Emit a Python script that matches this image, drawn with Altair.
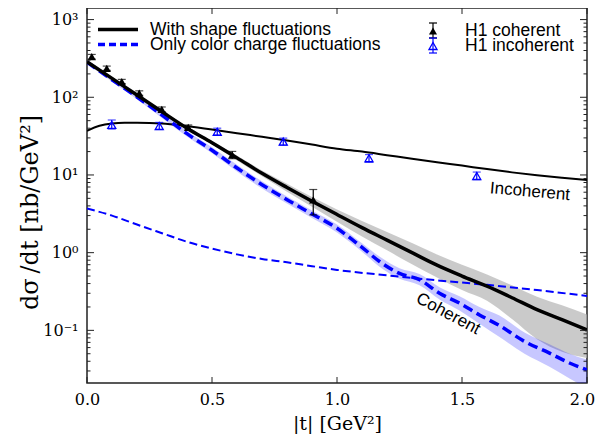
import altair as alt
import pandas as pd

# ---------------- data ----------------
t_grid = [0.0, 0.1, 0.2, 0.3, 0.4, 0.5, 0.6, 0.7, 0.8, 0.9, 1.0,
          1.1, 1.2, 1.3, 1.4, 1.5, 1.6, 1.7, 1.8, 1.9, 2.0]
coh_shape = [287, 175, 107, 65, 40, 26, 16.6, 10.5, 6.9, 4.6, 3.1,
             2.1, 1.45, 1.0, 0.69, 0.50, 0.37, 0.263, 0.185, 0.137, 0.101]
coh_shape_hi = [301, 184, 112, 68, 42, 27.3, 17.8, 11.4, 7.7, 5.2, 3.6,
                2.56, 1.84, 1.33, 0.95, 0.70, 0.525, 0.38, 0.27, 0.21, 0.16]
coh_shape_lo = [273, 167, 102, 62, 38, 24.7, 15.4, 9.6, 6.1, 3.9, 2.5,
                1.62, 1.07, 0.71, 0.48, 0.33, 0.24, 0.14, 0.077, 0.053, 0.044]

t_color = [0.0, 0.1, 0.2, 0.3, 0.4, 0.5, 0.6, 0.7, 0.8, 0.9, 1.0, 1.1, 1.17,
           1.25, 1.33, 1.41, 1.49, 1.57, 1.65, 1.75, 1.85, 1.93, 2.0]
coh_color = [283, 168, 101, 59, 34, 20.8, 12.3, 7.5, 4.8, 3.15, 2.06, 1.17, 0.77,
             0.54, 0.45, 0.30, 0.224, 0.158, 0.115, 0.072, 0.051, 0.038, 0.031]
coh_color_hi = [295, 177, 108, 64, 36.8, 22.7, 13.5, 8.3, 5.3, 3.5, 2.3, 1.32, 0.89,
                0.63, 0.53, 0.36, 0.275, 0.2, 0.155, 0.094, 0.066, 0.05, 0.042]
coh_color_lo = [272, 158, 94, 54, 31.2, 19, 11.1, 6.7, 4.3, 2.8, 1.82, 1.03, 0.66,
                0.46, 0.38, 0.25, 0.18, 0.122, 0.082, 0.05, 0.034, 0.024, 0.018]

t_inc = [0.0, 0.05, 0.1, 0.15, 0.2, 0.3, 0.4, 0.5, 0.6, 0.7, 0.8, 0.9, 1.0,
         1.1, 1.2, 1.3, 1.4, 1.5, 1.6, 1.7, 1.8, 1.9, 2.0]
inc_shape = [37, 43, 46, 47, 47, 46, 42.5, 38.5, 34.5, 31, 27.8, 24.6, 21.8,
             20.0, 18.0, 16.2, 14.6, 13.2, 11.9, 10.8, 9.9, 9.2, 8.6]

t_inc_color = [0.0, 0.1, 0.2, 0.3, 0.4, 0.5, 0.6, 0.7, 0.8, 0.9, 1.0,
               1.2, 1.4, 1.6, 1.8, 2.0]
inc_color = [3.7, 3.0, 2.3, 1.78, 1.38, 1.13, 0.95, 0.83, 0.75, 0.67, 0.60,
             0.51, 0.44, 0.385, 0.33, 0.277]

h1_coh_t = [0.019, 0.079, 0.139, 0.209, 0.299, 0.405, 0.581, 0.905]
h1_coh_y = [333, 236, 159, 113, 70, 41, 18.1, 4.77]
h1_coh_lo = [310, 222, 150, 106, 65, 38, 16.2, 3.06]
h1_coh_hi = [356, 252, 170, 121, 75, 44, 20.1, 6.5]

h1_inc_t = [0.099, 0.289, 0.521, 0.785, 1.128, 1.559]
h1_inc_y = [44, 42.7, 36, 26.9, 16.4, 9.7]
h1_inc_lo = [39, 38.5, 32.5, 24.2, 14.6, 8.7]
h1_inc_hi = [51, 47.5, 40, 29.8, 18.3, 10.9]

x_ticks = [0.0, 0.5, 1.0, 1.5, 2.0]
y_major = [0.1, 1, 10, 100, 1000]
y_minor = [0.03, 0.04, 0.05, 0.06, 0.07, 0.08, 0.09,
           0.2, 0.3, 0.4, 0.5, 0.6, 0.7, 0.8, 0.9,
           2, 3, 4, 5, 6, 7, 8, 9,
           20, 30, 40, 50, 60, 70, 80, 90,
           200, 300, 400, 500, 600, 700, 800, 900]

legend_lines = ["With shape fluctuations", "Only color charge fluctuations"]
legend_points = ["H1 coherent", "H1 incoherent"]
annotations = ["Incoherent", "Coherent"]

# ---------------- layout ----------------
W, H = 500, 375
BLUE = "#0000ff"
SERIF = "DejaVu Serif"
SANS = "Liberation Sans"

xs = alt.Scale(domain=[0, 2], nice=False, zero=False)
ys = alt.Scale(type="log", domain=[0.021, 1410], nice=False)

x_axis = alt.Axis(values=x_ticks, format=".1f", tickSize=0, domain=False, grid=False,
                  labelFlush=False, labelFont=SERIF, labelFontSize=16, labelColor="black",
                  labelPadding=8,
                  labelOffset={"condition": {"test": "datum.value >= 1.99", "value": -5},
                               "value": 0},
                  title="|t| [GeV²]", titleFont=SERIF, titleFontSize=19,
                  titleFontWeight="normal", titleColor="black", titleY=40,
                  titleBaseline="middle")
y_axis = alt.Axis(values=y_major, tickSize=0, domain=False, grid=False,
                  labelExpr="datum.value >= 999 ? '10³' : datum.value >= 99 ? '10²' : "
                            "datum.value >= 9 ? '10¹' : datum.value >= 0.9 ? '10⁰' : '10⁻¹'",
                  labelFont=SERIF, labelFontSize=16, labelColor="black", labelPadding=9,
                  title="dσ\u2009/dt [nb/GeV²]", titleFont=SERIF, titleFontSize=24,
                  titleFontWeight="normal", titleColor="black", titleX=-57, titleY=204,
                  titleAngle=270, titleAlign="center", titleBaseline="middle")


def X(f):
    return alt.X(f"{f}:Q", scale=xs, axis=x_axis)


def Y(f):
    return alt.Y(f"{f}:Q", scale=ys, axis=y_axis)


df_shape = pd.DataFrame({"t": t_grid, "y": coh_shape, "lo": coh_shape_lo, "hi": coh_shape_hi})
df_color = pd.DataFrame({"t": t_color, "y": coh_color, "lo": coh_color_lo, "hi": coh_color_hi})
df_inc = pd.DataFrame({"t": t_inc, "y": inc_shape})
df_inc_c = pd.DataFrame({"t": t_inc_color, "y": inc_color})
df_h1c = pd.DataFrame({"t": h1_coh_t, "y": h1_coh_y, "lo": h1_coh_lo, "hi": h1_coh_hi})
df_h1i = pd.DataFrame({"t": h1_inc_t, "y": h1_inc_y, "lo": h1_inc_lo, "hi": h1_inc_hi})

band_shape = alt.Chart(df_shape).mark_area(color="#b4b4b4", opacity=0.7, clip=True,
                                           interpolate="monotone").encode(
    x=X("t"), y=Y("lo"), y2="hi")
band_color = alt.Chart(df_color).mark_area(color=BLUE, opacity=0.22, clip=True,
                                           interpolate="monotone").encode(
    x=X("t"), y=Y("lo"), y2="hi")

line_inc_c = alt.Chart(df_inc_c).mark_line(color=BLUE, strokeWidth=2, strokeDash=[8, 4],
                                           interpolate="monotone", clip=True).encode(
    x=X("t"), y=Y("y"))
line_inc = alt.Chart(df_inc).mark_line(color="black", strokeWidth=2,
                                       interpolate="monotone", clip=True).encode(
    x=X("t"), y=Y("y"))
line_color = alt.Chart(df_color).mark_line(color=BLUE, strokeWidth=3.5, strokeDash=[10, 5],
                                           interpolate="monotone", clip=True).encode(
    x=X("t"), y=Y("y"))
line_shape = alt.Chart(df_shape).mark_line(color="black", strokeWidth=3.5,
                                           interpolate="monotone", clip=True).encode(
    x=X("t"), y=Y("y"))


def errbars(df, col):
    bar = alt.Chart(df).mark_rule(color=col, strokeWidth=1.2).encode(
        x=X("t"), y=Y("lo"), y2="hi")
    cap_lo = alt.Chart(df).mark_tick(color=col, orient="horizontal", size=8,
                                     thickness=1.2).encode(x=X("t"), y=Y("lo"))
    cap_hi = alt.Chart(df).mark_tick(color=col, orient="horizontal", size=8,
                                     thickness=1.2).encode(x=X("t"), y=Y("hi"))
    return [bar, cap_lo, cap_hi]


pts_c = alt.Chart(df_h1c).mark_point(shape="triangle-up", filled=True, color="black",
                                     size=70, opacity=1).encode(x=X("t"), y=Y("y"))
pts_i = alt.Chart(df_h1i).mark_point(shape="triangle-up", filled=False, color=BLUE,
                                     strokeWidth=1.3, size=65, opacity=1).encode(
    x=X("t"), y=Y("y"))

# inward ticks on all four sides
dx = pd.DataFrame({"t": x_ticks})
dmaj = pd.DataFrame({"v": y_major})
dmin = pd.DataFrame({"v": y_minor})
tick_style = dict(color="#222", strokeWidth=1)
ticks = [
    alt.Chart(dx).mark_rule(**tick_style).encode(x=X("t"), y=alt.value(H), y2=alt.value(H - 6)),
    alt.Chart(dx).mark_rule(**tick_style).encode(x=X("t"), y=alt.value(0), y2=alt.value(6)),
    alt.Chart(dmaj).mark_rule(**tick_style).encode(y=Y("v"), x=alt.value(0), x2=alt.value(7)),
    alt.Chart(dmaj).mark_rule(**tick_style).encode(y=Y("v"), x=alt.value(W), x2=alt.value(W - 7)),
    alt.Chart(dmin).mark_rule(**tick_style).encode(y=Y("v"), x=alt.value(0), x2=alt.value(3.5)),
    alt.Chart(dmin).mark_rule(**tick_style).encode(y=Y("v"), x=alt.value(W), x2=alt.value(W - 3.5)),
]

# annotations
anno_in = alt.Chart(pd.DataFrame({"t": [1.772], "y": [6.1], "s": [annotations[0]]})).mark_text(
    font=SANS, fontSize=17, angle=5, color="black").encode(x=X("t"), y=Y("y"), text="s:N")
anno_co = alt.Chart(pd.DataFrame({"t": [1.445], "y": [0.163], "s": [annotations[1]]})).mark_text(
    font=SANS, fontSize=17, angle=28, color="black").encode(x=X("t"), y=Y("y"), text="s:N")

# manual legends
one = pd.DataFrame({"a": [0]})
leg = []
leg.append(alt.Chart(one).mark_rule(color="black", strokeWidth=3.5).encode(
    x=alt.value(11), x2=alt.value(51), y=alt.value(21.5)))
leg.append(alt.Chart(one).mark_rule(color=BLUE, strokeWidth=3.5, strokeDash=[7, 4]).encode(
    x=alt.value(11), x2=alt.value(51), y=alt.value(36.5)))
for i, lab in enumerate(legend_lines):
    leg.append(alt.Chart(one).mark_text(font=SANS, fontSize=17.5, align="left",
                                        baseline="middle", color="black").encode(
        x=alt.value(63), y=alt.value(22 + 15 * i), text=alt.value(lab)))
for i, (lab, col, fill) in enumerate(zip(legend_points, ["black", BLUE], [True, False])):
    yy = 23 + 15 * i
    leg.append(alt.Chart(one).mark_rule(color=col, strokeWidth=1.2).encode(
        x=alt.value(346), y=alt.value(yy - 8), y2=alt.value(yy + 7)))
    leg.append(alt.Chart(one).mark_rule(color=col, strokeWidth=1.2).encode(
        x=alt.value(342), x2=alt.value(350), y=alt.value(yy - 8)))
    leg.append(alt.Chart(one).mark_rule(color=col, strokeWidth=1.2).encode(
        x=alt.value(342), x2=alt.value(350), y=alt.value(yy + 7)))
    leg.append(alt.Chart(one).mark_point(shape="triangle-up", filled=fill, color=col,
                                         strokeWidth=1.3, size=65, opacity=1).encode(
        x=alt.value(346), y=alt.value(yy)))
    leg.append(alt.Chart(one).mark_text(font=SANS, fontSize=17.5, align="left",
                                        baseline="middle", color="black").encode(
        x=alt.value(378), y=alt.value(yy), text=alt.value(lab)))

layers = ([band_shape, band_color, line_inc_c, line_inc, line_color, line_shape]
          + errbars(df_h1c, "black") + errbars(df_h1i, BLUE) + [pts_c, pts_i]
          + ticks + [anno_in, anno_co] + leg)

chart = alt.layer(*layers).properties(
    width=W, height=H,
    autosize=alt.AutoSizeParams(type="none"),
    padding={"left": 79, "top": 0, "right": 9, "bottom": 51},
    background="white",
).configure_view(stroke="#222", strokeWidth=1.5)

chart.save("out.html", embed_options={"renderer": "svg", "actions": False})
